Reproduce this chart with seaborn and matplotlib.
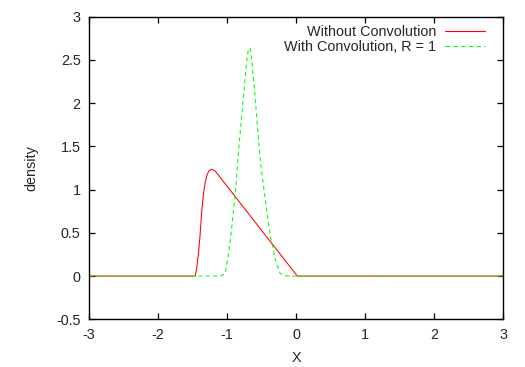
import matplotlib
matplotlib.use("Agg")
import matplotlib.pyplot as plt
from matplotlib.lines import Line2D
import pandas as pd
import seaborn as sns

# values
x_plain = [-3.0, -1.46, -1.44, -1.416, -1.39, -1.367, -1.343, -1.319, -1.294, -1.26,
           -1.22, -1.174, -1.126, -1.0, -0.8, -0.6, -0.4, -0.2, 0.0, 0.02, 3.0]
y_plain = [0.0, 0.0, 0.09, 0.243, 0.475, 0.745, 0.94, 1.07, 1.16, 1.22,
           1.236, 1.217, 1.17, 1.04, 0.836, 0.632, 0.428, 0.224, 0.02, 0.0, 0.0]

x_conv = [-3.0, -1.10, -1.025, -0.977, -0.93, -0.88, -0.836, -0.787, -0.74, -0.71,
          -0.69, -0.677, -0.66, -0.645, -0.614, -0.57, -0.52, -0.445, -0.37, -0.30,
          -0.23, -0.13, 3.0]
y_conv = [0.0, 0.0, 0.03, 0.26, 0.57, 0.96, 1.42, 1.85, 2.27, 2.52,
          2.62, 2.64, 2.62, 2.52, 2.27, 1.85, 1.35, 0.88, 0.46, 0.19,
          0.03, 0.0, 0.0]

labels = ["Without Convolution", "With Convolution, R = 1"]
x_ticks = [-3, -2, -1, 0, 1, 2, 3]
y_ticks = [-0.5, 0, 0.5, 1, 1.5, 2, 2.5, 3]

RED = '#ff0000'
GREEN = '#00ff00'
DASH = (0, (4, 3))

sns.set_style("ticks")
plt.rcParams['font.family'] = ['Liberation Sans', 'DejaVu Sans']
plt.rcParams['font.size'] = 10.4

df_plain = pd.DataFrame({'x': x_plain, 'y': y_plain})
df_conv = pd.DataFrame({'x': x_conv, 'y': y_conv})

fig = plt.figure(figsize=(5.25, 3.67), dpi=100)
ax = fig.add_axes([89 / 525, 1 - 319.3 / 367, 414 / 525, 302.6 / 367])

sns.lineplot(data=df_plain, x='x', y='y', ax=ax, color=RED, linewidth=0.75,
             sort=False, estimator=None, legend=False)
sns.lineplot(data=df_conv, x='x', y='y', ax=ax, color=GREEN, linewidth=0.75,
             sort=False, estimator=None, linestyle=DASH, legend=False)

ax.set_xlim(-3, 3)
ax.set_ylim(-0.5, 3)
ax.set_xticks(x_ticks)
ax.set_xticklabels([str(t) for t in x_ticks])
ax.set_yticks(y_ticks)
ax.set_yticklabels([f'{t:g}' for t in y_ticks])
ax.tick_params(direction='in', length=4.5, width=0.9, color='black',
               top=True, right=True, labelsize=10.4, pad=6)
for s in ax.spines.values():
    s.set_linewidth(1.0)
    s.set_color('black')

ax.set_xlabel('X')
ax.set_ylabel('density')
ax.xaxis.set_label_coords(0.5, -0.106)
ax.yaxis.set_label_coords(-0.123, 0.5)

# unsnapped handles so the thin samples blend like the reference ones
handles = [Line2D([], [], color=RED, linewidth=0.8, snap=False),
           Line2D([], [], color=GREEN, linewidth=0.8, linestyle=DASH, snap=False)]
ax.legend(handles, labels, loc='upper right', bbox_to_anchor=(0.9565, 0.974),
          frameon=False, markerfirst=False, borderpad=0, borderaxespad=0,
          handlelength=2.75, handletextpad=0.6, labelspacing=0.08, fontsize=10.4)

fig.savefig('out.png', dpi=100)
